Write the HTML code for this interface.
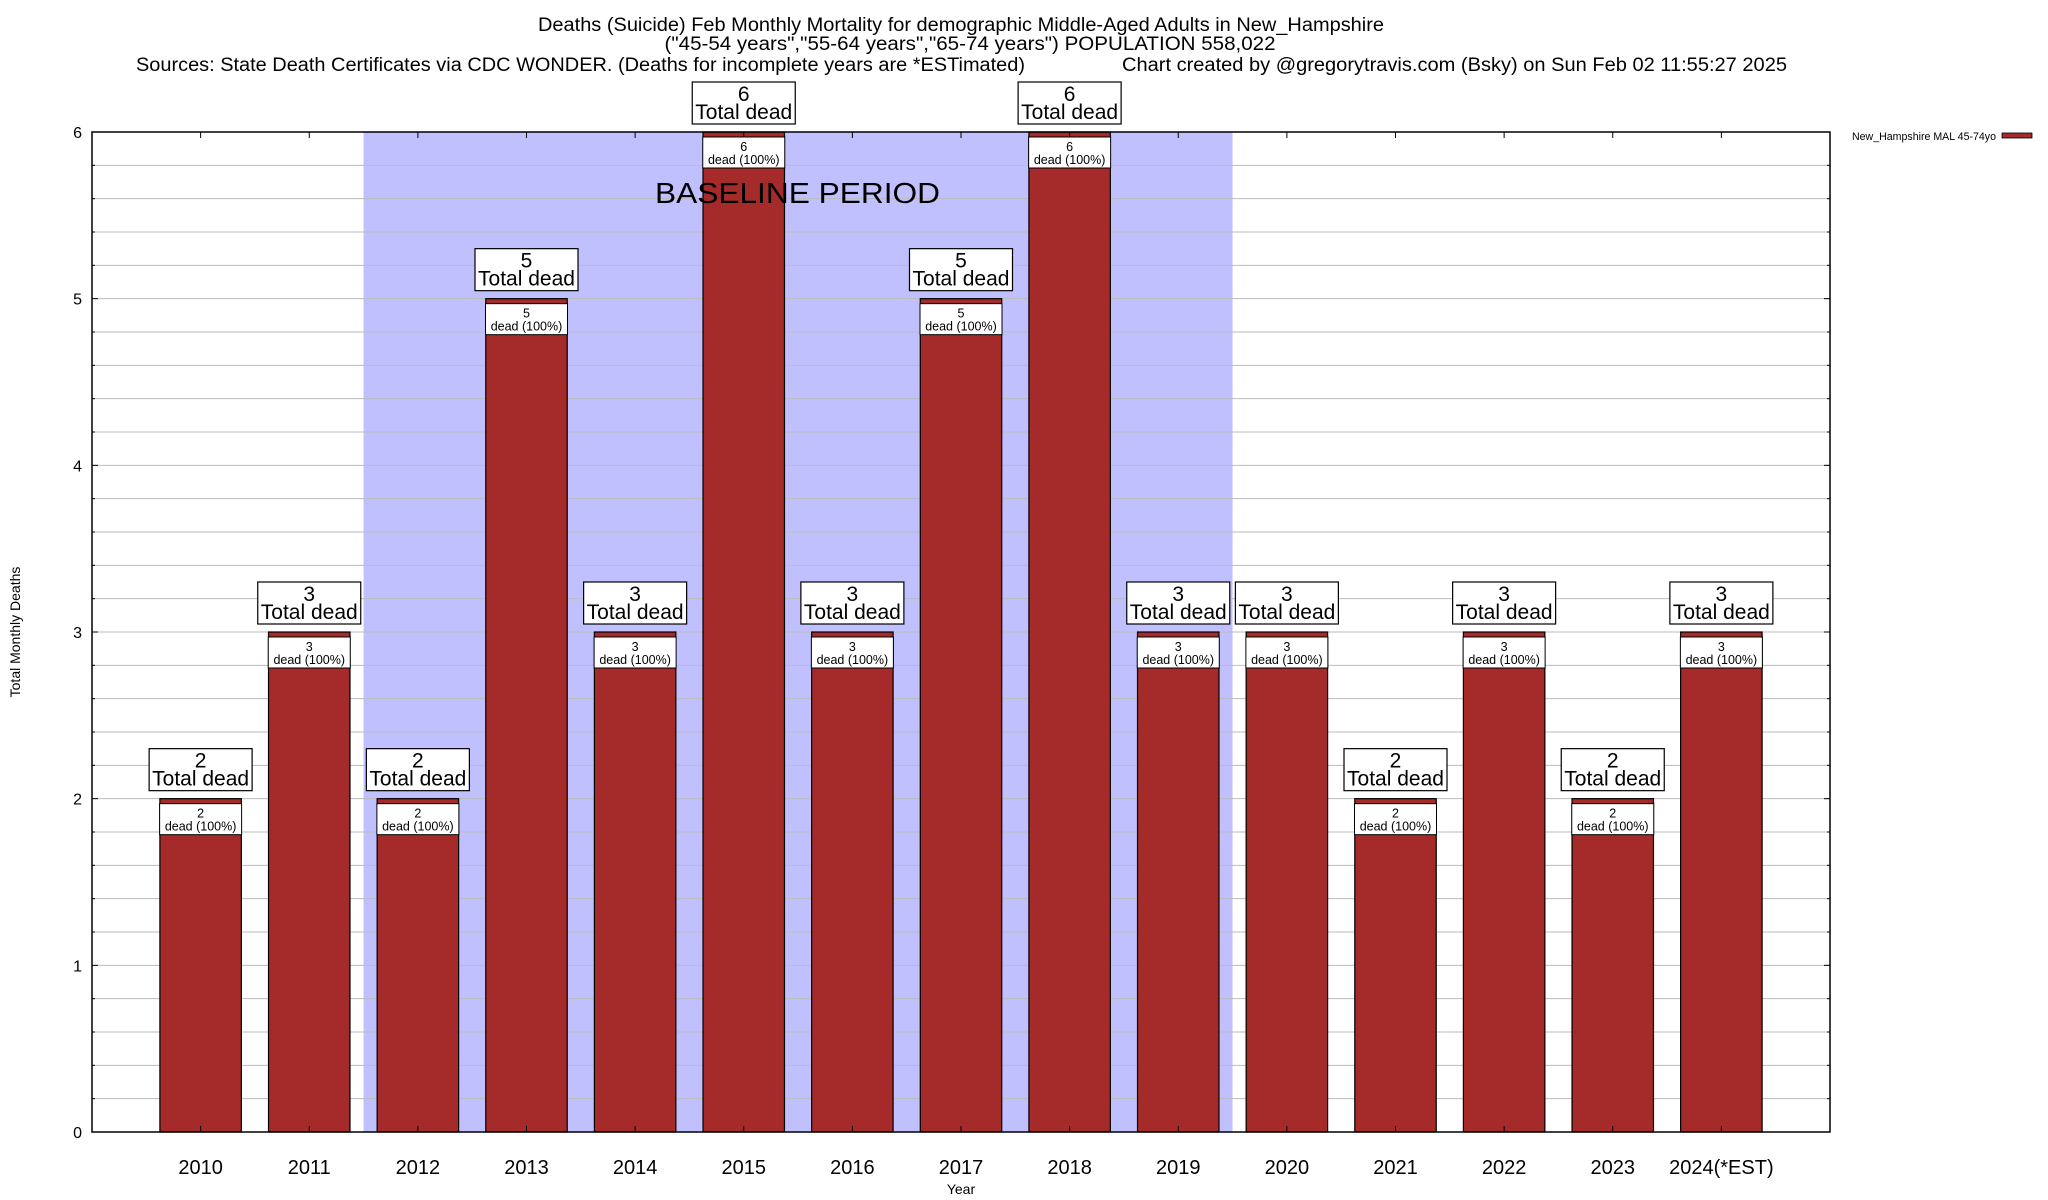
<!DOCTYPE html>
<html><head><meta charset="utf-8">
<style>
html,body{margin:0;padding:0;background:#fff;}
svg{display:block;font-family:"Liberation Sans",Arial,sans-serif;}
</style></head>
<body>
<svg id="chart" width="2048" height="1200" viewBox="0 0 2048 1200" xmlns="http://www.w3.org/2000/svg">
<g>
<text x="961" y="31" font-size="19" text-anchor="middle" textLength="846" lengthAdjust="spacingAndGlyphs">Deaths (Suicide) Feb Monthly Mortality for demographic Middle-Aged Adults in New_Hampshire</text>
<text x="970" y="50" font-size="19" text-anchor="middle" textLength="611" lengthAdjust="spacingAndGlyphs">("45-54 years","55-64 years","65-74 years") POPULATION 558,022</text>
<text x="136" y="71" font-size="19" textLength="889" lengthAdjust="spacingAndGlyphs">Sources: State Death Certificates via CDC WONDER. (Deaths for incomplete years are *ESTimated)</text>
<text x="1122" y="71" font-size="19" textLength="665" lengthAdjust="spacingAndGlyphs">Chart created by @gregorytravis.com (Bsky) on Sun Feb 02 11:55:27 2025</text>
</g>
<g id="shade"></g>
<g id="grid"></g>
<g id="bars"></g>
<text x="655" y="203" font-size="29" textLength="285" lengthAdjust="spacingAndGlyphs">BASELINE PERIOD</text>
<rect x="92" y="132" width="1738" height="1000" fill="none" stroke="#000" stroke-width="1.5"/>
<g id="axes"></g>
<g id="labels"></g>
<text transform="translate(20,632) rotate(-90)" font-size="14" text-anchor="middle">Total Monthly Deaths</text>
<text x="961" y="1194" font-size="14" text-anchor="middle">Year</text>
<g>
<text x="1852" y="140" font-size="11" textLength="144" lengthAdjust="spacingAndGlyphs">New_Hampshire MAL 45-74yo</text>
<rect x="2002" y="133" width="30" height="5" fill="#a52a2a" stroke="#000" stroke-width="0.8"/>
</g>
</svg>
<script>
const categories = ["2010","2011","2012","2013","2014","2015","2016","2017","2018","2019","2020","2021","2022","2023","2024(*EST)"];
const deaths = [2,3,2,5,3,6,3,5,6,3,3,2,3,2,3];
const yTicks = [0,1,2,3,4,5,6];
const baselineStart = 2;
const baselineEnd = 9;

const NS = "http://www.w3.org/2000/svg";
const L = 92, R = 1830, T = 132, B = 1132, yMax = 6;
const step = (R - L) / (categories.length + 1);
const barW = step * 0.75;
const xC = i => L + step * (i + 1);
const yS = v => B - (v / yMax) * (B - T);
function mk(tag, attrs, parent) {
  const e = document.createElementNS(NS, tag);
  for (const k in attrs) e.setAttribute(k, attrs[k]);
  parent.appendChild(e);
  return e;
}
const shade = document.getElementById('shade');
const grid = document.getElementById('grid');
const bars = document.getElementById('bars');
const axes = document.getElementById('axes');
const labels = document.getElementById('labels');

const sh = mk('rect', {x: xC(baselineStart) - step/2, y: T, width: xC(baselineEnd) - xC(baselineStart) + step, height: B - T, fill: '#c0c0ff'}, shade);



for (let v = 0.2; v < yMax - 0.01; v += 0.2) {
  const y = yS(v);
  const g = mk('line', {x1: L, x2: R, y1: y, y2: y, stroke: '#bbbbbb', 'stroke-width': 1}, grid);
  
  
  const major = Math.abs(v - Math.round(v)) < 0.01;
  const len = major ? 6 : 3;
  mk('line', {x1: L, x2: L + len, y1: y, y2: y, stroke: '#000'}, axes);
  mk('line', {x1: R - len, x2: R, y1: y, y2: y, stroke: '#000'}, axes);
}
yTicks.forEach(v => {
  const t = mk('text', {x: 82, y: yS(v) + 6, 'font-size': 16, 'text-anchor': 'end'}, axes);
  t.textContent = v;
  
  
});

categories.forEach((c, i) => {
  const x = xC(i), v = deaths[i], y = yS(v);
  mk('line', {x1: x, x2: x, y1: T, y2: T + 6, stroke: '#000'}, axes);
  mk('line', {x1: x, x2: x, y1: B, y2: B - 6, stroke: '#000'}, axes);
  const b = mk('rect', {x: x - barW/2, y: y, width: barW, height: B - y, fill: '#a52a2a', stroke: '#000', 'stroke-width': 1.2}, bars);
  
  

  const xl = mk('text', {x: x, y: 1174, 'font-size': 20, 'text-anchor': 'middle'}, axes);
  xl.textContent = c;
  
  

  const ib = mk('rect', {x: x - 41, y: y + 5, width: 82, height: 31, fill: '#fff', stroke: '#000', 'stroke-width': 1}, labels);
  
  
  const it1 = mk('text', {x: x, y: y + 19, 'font-size': 12.5, 'text-anchor': 'middle'}, labels);
  it1.textContent = v;
  
  
  const it2 = mk('text', {x: x, y: y + 32, 'font-size': 12.5, 'text-anchor': 'middle'}, labels);
  it2.textContent = 'dead (100%)';
  
  

  const ob = mk('rect', {x: x - 51.5, y: y - 50, width: 103, height: 42, fill: '#fff', stroke: '#000', 'stroke-width': 1.2}, labels);
  
  
  const ot1 = mk('text', {x: x, y: y - 31, 'font-size': 21, 'text-anchor': 'middle'}, labels);
  ot1.textContent = v;
  
  
  const ot2 = mk('text', {x: x, y: y - 13, 'font-size': 21, 'text-anchor': 'middle'}, labels);
  ot2.textContent = 'Total dead';
  
  
});
</script>
</body></html>
